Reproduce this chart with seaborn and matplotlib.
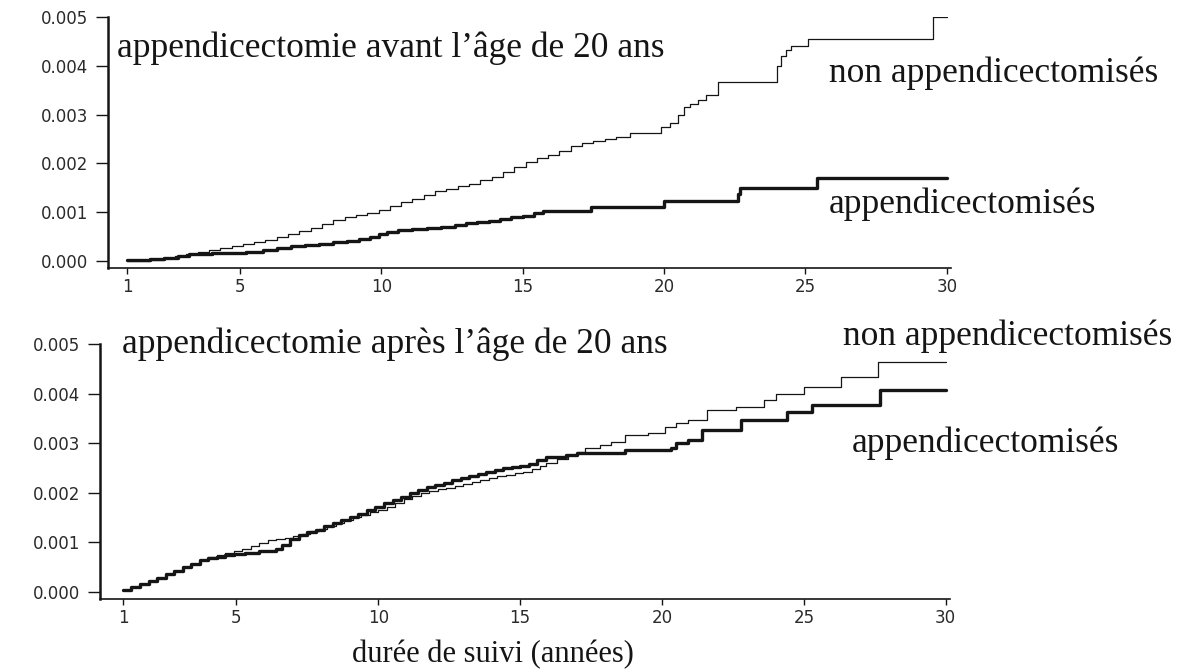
import numpy as np
import pandas as pd
import matplotlib
matplotlib.use("Agg")
import matplotlib.pyplot as plt
import seaborn as sns

# ---------------- data ----------------
x_ticks = [1, 5, 10, 15, 20, 25, 30]
y_ticks = [0.000, 0.001, 0.002, 0.003, 0.004, 0.005]
y_tick_labels = ["0.000", "0.001", "0.002", "0.003", "0.004", "0.005"]

# Top panel: appendicectomie avant l'âge de 20 ans
top_non_x = [1, 1.8, 2.3, 2.7, 3.1, 3.5, 3.9, 4.3, 4.7, 5.1,
             5.5, 5.9, 6.3, 6.7, 7.1, 7.5, 7.9, 8.3, 8.7, 9.1,
             9.5, 9.9, 10.3, 10.7, 11.1, 11.5, 11.9, 12.3, 12.7, 13.1,
             13.5, 13.9, 14.3, 14.7, 15.1, 15.5, 15.9, 16.3, 16.7, 17.1,
             17.5, 17.9, 18.3, 18.8, 19.9, 20.2, 20.5, 20.7, 20.9, 21.2,
             21.5, 21.9, 24.0, 24.15, 24.3, 24.5, 25.1, 29.5, 30]
top_non_y = [0.0, 0.00003, 0.00006, 0.0001, 0.00014, 0.00018, 0.00022, 0.00026, 0.0003, 0.00034,
             0.00039, 0.00044, 0.0005, 0.00056, 0.00061, 0.00067, 0.00075, 0.00085, 0.00091, 0.00095,
             0.00099, 0.00104, 0.00113, 0.0012, 0.00128, 0.00135, 0.00143, 0.00148, 0.00153, 0.00158,
             0.00165, 0.00172, 0.00182, 0.00193, 0.00203, 0.00212, 0.00218, 0.00226, 0.00236, 0.00241,
             0.00246, 0.00249, 0.00254, 0.00262, 0.00275, 0.00283, 0.003, 0.00316, 0.00322, 0.0033,
             0.0034, 0.00367, 0.004, 0.0042, 0.00432, 0.0044, 0.00455, 0.005, 0.005]

top_app_x = [1, 1.8, 2.3, 2.8, 3.2, 4.0, 4.6, 5.2, 5.8, 6.3,
             6.8, 7.3, 7.8, 8.3, 8.8, 9.2, 9.6, 9.9, 10.2, 10.6,
             11.1, 11.6, 12.1, 12.6, 13.0, 13.4, 13.8, 14.2, 14.6, 15.0,
             15.4, 15.7, 17.4, 20.0, 22.6, 22.7, 25.4, 30]
top_app_y = [0.00002, 0.00004, 0.00007, 0.0001, 0.00014, 0.00016, 0.00017, 0.00019, 0.00022, 0.00026,
             0.0003, 0.00033, 0.00035, 0.00038, 0.00041, 0.00045, 0.0005, 0.00055, 0.00059, 0.00063,
             0.00066, 0.00068, 0.0007, 0.00073, 0.00077, 0.0008, 0.00083, 0.00086, 0.0009, 0.00093,
             0.00098, 0.00103, 0.0011, 0.00123, 0.00137, 0.0015, 0.0017, 0.0017]

# Bottom panel: appendicectomie après l'âge de 20 ans
bot_app_x = [1.0, 1.3, 1.6, 1.9, 2.2, 2.5, 2.8, 3.1, 3.4, 3.7,
             4.0, 4.3, 4.6, 4.9, 5.3, 5.8, 6.4, 6.6, 6.9, 7.2,
             7.5, 7.8, 8.1, 8.4, 8.7, 9.0, 9.3, 9.6, 9.9, 10.2,
             10.5, 10.8, 11.1, 11.4, 11.7, 12.0, 12.3, 12.6, 12.9, 13.2,
             13.5, 13.8, 14.1, 14.4, 14.7, 15.0, 15.3, 15.6, 15.9, 16.6,
             17.0, 18.7, 20.3, 20.5, 20.9, 21.4, 22.8, 24.4, 25.3, 27.7,
             30]
bot_app_y = [0.00004, 0.0001, 0.00016, 0.00022, 0.00029, 0.00036, 0.00043, 0.0005, 0.00057, 0.00064,
             0.00068, 0.00071, 0.00074, 0.00076, 0.00079, 0.00082, 0.00086, 0.00095, 0.00107, 0.00114,
             0.0012, 0.00126, 0.00133, 0.00139, 0.00145, 0.00151, 0.00158, 0.00165, 0.00172, 0.00179,
             0.00186, 0.00192, 0.00199, 0.00205, 0.00211, 0.00216, 0.0022, 0.00225, 0.00229, 0.00233,
             0.00237, 0.00241, 0.00245, 0.00249, 0.00252, 0.00255, 0.00259, 0.00266, 0.00272, 0.00276,
             0.0028, 0.00286, 0.0029, 0.003, 0.00306, 0.00327, 0.00347, 0.00363, 0.00377, 0.00407,
             0.00407]

bot_non_x = [1.0, 1.3, 1.6, 1.9, 2.2, 2.5, 2.8, 3.1, 3.4, 3.7,
             4.0, 4.3, 4.6, 4.9, 5.2, 5.5, 5.8, 6.1, 6.4, 6.7,
             7.0, 7.3, 7.6, 7.9, 8.2, 8.5, 8.8, 9.1, 9.4, 9.7,
             10.0, 10.3, 10.6, 10.9, 11.2, 11.5, 11.8, 12.1, 12.4, 12.7,
             13.0, 13.3, 13.6, 13.9, 14.2, 14.5, 14.8, 15.1, 15.4, 15.7,
             15.9, 16.3, 16.7, 17.0, 17.3, 17.8, 18.2, 18.7, 19.5, 20.1,
             20.5, 20.9, 21.6, 22.6, 23.6, 24.0, 25.0, 26.3, 27.6, 30]
bot_non_y = [0.00004, 0.0001, 0.00016, 0.00022, 0.00029, 0.00036, 0.00043, 0.0005, 0.00057, 0.00064,
             0.0007, 0.00074, 0.00078, 0.00082, 0.00087, 0.00093, 0.00099, 0.00104, 0.00107, 0.00109,
             0.00112, 0.00117, 0.00122, 0.00128, 0.00134, 0.0014, 0.00146, 0.00151, 0.00156, 0.00161,
             0.00166, 0.00172, 0.00179, 0.00187, 0.00194, 0.00199, 0.00203, 0.00207, 0.0021, 0.00214,
             0.00218, 0.00222, 0.00226, 0.0023, 0.00233, 0.00236, 0.00239, 0.00242, 0.00248, 0.00255,
             0.0026, 0.00268, 0.00276, 0.00282, 0.0029, 0.00296, 0.00302, 0.00316, 0.0032, 0.00333,
             0.0034, 0.00347, 0.00367, 0.00373, 0.00387, 0.004, 0.00413, 0.00433, 0.00464, 0.00464]

# ---------------- styling ----------------
sns.set_style("ticks")
plt.rcParams["font.family"] = ["DejaVu Sans"]
INK = "#151515"
SERIF = ["Liberation Serif", "DejaVu Serif"]

fig = plt.figure(figsize=(11.86, 6.71), dpi=100)
fig.patch.set_facecolor("white")

ax_top = fig.add_axes([108 / 1186, 1 - 268 / 671, (951 - 108) / 1186, (268 - 17) / 671])
ax_bot = fig.add_axes([100 / 1186, 1 - 599 / 671, (950 - 100) / 1186, (599 - 344) / 671])


def draw(ax, nx, ny, ax_, ay, xmin, ymin):
    df_non = pd.DataFrame({"x": nx, "y": ny})
    df_app = pd.DataFrame({"x": ax_, "y": ay})
    sns.lineplot(data=df_non, x="x", y="y", ax=ax, estimator=None, sort=False,
                 drawstyle="steps-post", color=INK, linewidth=0.9)
    sns.lineplot(data=df_app, x="x", y="y", ax=ax, estimator=None, sort=False,
                 drawstyle="steps-post", color=INK, linewidth=2.4)
    ax.set_xlim(xmin, 30.15)
    ax.set_ylim(ymin, 0.005)
    ax.set_xticks(x_ticks)
    ax.set_xticklabels([str(v) for v in x_ticks])
    ax.set_yticks(y_ticks)
    ax.set_yticklabels(y_tick_labels)
    ax.set_xlabel("")
    ax.set_ylabel("")
    ax.set_facecolor("white")
    for s in ("top", "right"):
        ax.spines[s].set_visible(False)
    ax.spines["left"].set_linewidth(1.8)
    ax.spines["bottom"].set_linewidth(1.2)
    ax.spines["left"].set_color(INK)
    ax.spines["bottom"].set_color(INK)
    ax.tick_params(axis="y", direction="out", length=9, width=1.0, pad=5,
                   labelsize=12, colors=INK)
    ax.tick_params(axis="x", direction="out", length=4, width=1.0, pad=3,
                   labelsize=12, colors=INK)
    for lab in ax.get_xticklabels() + ax.get_yticklabels():
        lab.set_color("#2a2a2a")


draw(ax_top, top_non_x, top_non_y, top_app_x, top_app_y, 0.33, -0.000143)
draw(ax_bot, bot_non_x, bot_non_y, bot_app_x, bot_app_y, 0.19, -0.000141)

FS = 25.5
fig.text(117 / 1186, 1 - 57 / 671, "appendicectomie avant l\u2019âge de 20 ans",
         family=SERIF, fontsize=FS, color=INK, ha="left", va="baseline")
fig.text(829 / 1186, 1 - 82 / 671, "non appendicectomisés",
         family=SERIF, fontsize=FS, color=INK, ha="left", va="baseline")
fig.text(829 / 1186, 1 - 213 / 671, "appendicectomisés",
         family=SERIF, fontsize=FS, color=INK, ha="left", va="baseline")

fig.text(122 / 1186, 1 - 353 / 671, "appendicectomie après l\u2019âge de 20 ans",
         family=SERIF, fontsize=FS, color=INK, ha="left", va="baseline")
fig.text(843 / 1186, 1 - 345 / 671, "non appendicectomisés",
         family=SERIF, fontsize=FS, color=INK, ha="left", va="baseline")
fig.text(852 / 1186, 1 - 452 / 671, "appendicectomisés",
         family=SERIF, fontsize=FS, color=INK, ha="left", va="baseline")

fig.text(493 / 1186, 1 - 662 / 671, "durée de suivi (années)",
         family=SERIF, fontsize=22, color=INK, ha="center", va="baseline")

fig.savefig("out.png", dpi=100, facecolor="white")
